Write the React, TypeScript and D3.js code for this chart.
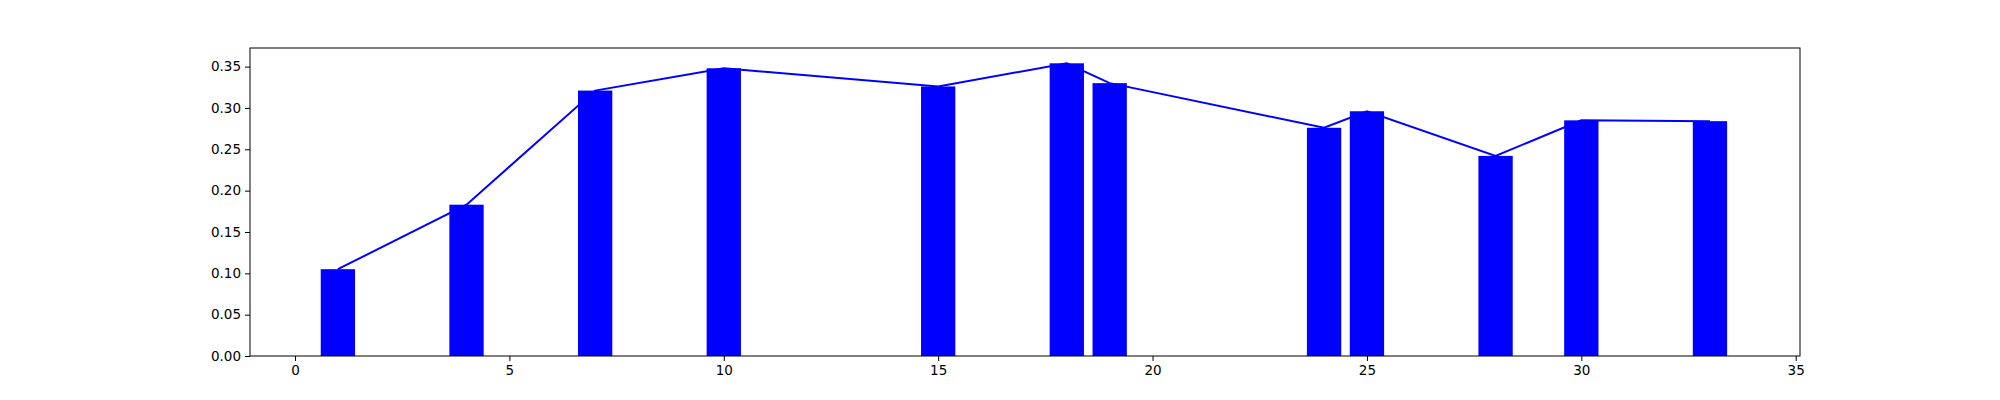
import React, { useEffect, useRef } from 'react';
import * as d3 from 'd3';

const xValues = [1, 4, 7, 10, 15, 18, 19, 24, 25, 28, 30, 33];
const yValues = [0.105, 0.183, 0.321, 0.348, 0.326, 0.354, 0.330, 0.276, 0.296, 0.242, 0.285, 0.284];
const xTicks = [0, 5, 10, 15, 20, 25, 30, 35];
const yTicks = [0, 0.05, 0.1, 0.15, 0.2, 0.25, 0.3, 0.35];

const App: React.FC = () => {
  const svgRef = useRef<SVGSVGElement>(null);

  useEffect(() => {
    const W = 2000, H = 400;
    const margin = { top: 48, right: 200, bottom: 44, left: 250 };
    const width = W - margin.left - margin.right;
    const height = H - margin.top - margin.bottom;

    d3.select(svgRef.current).selectAll('*').remove();
    const svg = d3.select(svgRef.current)
      .attr('width', W).attr('height', H)
      .style('background', '#fff')
      .append('g')
      .attr('transform', `translate(${margin.left},${margin.top})`);

    const x = d3.scaleLinear().domain([-1.05, 35.1]).range([0, width]);
    const y = d3.scaleLinear().domain([0, 0.3725]).range([height, 0]);
    const barW = x(0.8) - x(0);

    svg.selectAll('rect.bar')
      .data(xValues)
      .enter()
      .append('rect')
      .attr('x', (d) => x(d) - barW / 2)
      .attr('y', (_, i) => y(yValues[i]))
      .attr('width', barW)
      .attr('height', (_, i) => height - y(yValues[i]))
      .attr('fill', '#0000ff');

    const line = d3.line<number>()
      .x((d) => x(d))
      .y((_, i) => y(yValues[i]));
    svg.append('path')
      .datum(xValues)
      .attr('d', line)
      .attr('fill', 'none')
      .attr('stroke', '#0000ff')
      .attr('stroke-width', 2);

    const styleAxis = (g: any) => {
      g.selectAll('text').style('font-family', 'DejaVu Sans').style('font-size', '13.5px').style('fill', '#000');
      g.selectAll('line').style('stroke', '#000');
      g.select('.domain').remove();
    };

    svg.append('g')
      .attr('transform', `translate(0,${height})`)
      .call(d3.axisBottom(x).tickValues(xTicks).tickSize(5).tickPadding(4).tickFormat(d3.format('d')))
      .call(styleAxis);

    svg.append('g')
      .call(d3.axisLeft(y).tickValues(yTicks).tickSize(5).tickPadding(4).tickFormat(d3.format('.2f')))
      .call(styleAxis);

    svg.append('rect')
      .attr('width', width).attr('height', height)
      .attr('fill', 'none').attr('stroke', '#000').attr('stroke-width', 1);
  }, []);

  return <svg ref={svgRef} style={{ display: 'block', margin: -8 }}></svg>;
};

export default App;
